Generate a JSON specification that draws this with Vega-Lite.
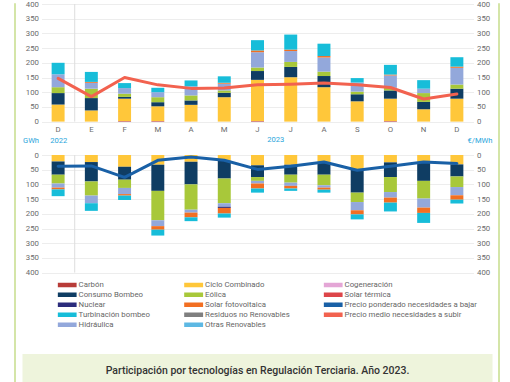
{
  "$schema": "https://vega.github.io/schema/vega-lite/v6.json",
  "padding": {"left": 14, "top": 0, "right": 0, "bottom": 0},
  "background": "white",
  "config": {
    "view": {"stroke": null},
    "font": "Roboto",
    "axis": {"labelFont": "Roboto", "labelFontSize": 7.8, "labelColor": "#6b6b6b", "domain": false, "ticks": false, "gridColor": "#e8e8e8", "gridWidth": 0.8, "titleFont": "Roboto", "titleFontSize": 7.6, "titleFontWeight": "normal", "titleColor": "#2ba6dc"}
  },
  "datasets": {
    "subir": [
      {"m": "2022-12", "s": "Ciclo Combinado", "v": 58}, {"m": "2022-12", "s": "Consumo Bombeo", "v": 39}, {"m": "2022-12", "s": "Eólica", "v": 20}, {"m": "2022-12", "s": "Hidráulica", "v": 44}, {"m": "2022-12", "s": "Turbinación bombeo", "v": 39},
      {"m": "2023-01", "s": "Ciclo Combinado", "v": 38}, {"m": "2023-01", "s": "Consumo Bombeo", "v": 42}, {"m": "2023-01", "s": "Eólica", "v": 32}, {"m": "2023-01", "s": "Hidráulica", "v": 20}, {"m": "2023-01", "s": "Solar fotovoltaica", "v": 3}, {"m": "2023-01", "s": "Turbinación bombeo", "v": 34},
      {"m": "2023-02", "s": "Carbón", "v": 2}, {"m": "2023-02", "s": "Ciclo Combinado", "v": 76}, {"m": "2023-02", "s": "Consumo Bombeo", "v": 6}, {"m": "2023-02", "s": "Eólica", "v": 11}, {"m": "2023-02", "s": "Hidráulica", "v": 19}, {"m": "2023-02", "s": "Turbinación bombeo", "v": 17},
      {"m": "2023-03", "s": "Carbón", "v": 2}, {"m": "2023-03", "s": "Ciclo Combinado", "v": 50}, {"m": "2023-03", "s": "Consumo Bombeo", "v": 14}, {"m": "2023-03", "s": "Eólica", "v": 17}, {"m": "2023-03", "s": "Hidráulica", "v": 17}, {"m": "2023-03", "s": "Turbinación bombeo", "v": 15},
      {"m": "2023-04", "s": "Ciclo Combinado", "v": 57}, {"m": "2023-04", "s": "Consumo Bombeo", "v": 15}, {"m": "2023-04", "s": "Eólica", "v": 17}, {"m": "2023-04", "s": "Hidráulica", "v": 31}, {"m": "2023-04", "s": "Turbinación bombeo", "v": 20},
      {"m": "2023-05", "s": "Ciclo Combinado", "v": 83}, {"m": "2023-05", "s": "Consumo Bombeo", "v": 15}, {"m": "2023-05", "s": "Eólica", "v": 8}, {"m": "2023-05", "s": "Hidráulica", "v": 23}, {"m": "2023-05", "s": "Solar fotovoltaica", "v": 3}, {"m": "2023-05", "s": "Turbinación bombeo", "v": 22},
      {"m": "2023-06", "s": "Carbón", "v": 2}, {"m": "2023-06", "s": "Ciclo Combinado", "v": 140}, {"m": "2023-06", "s": "Consumo Bombeo", "v": 30}, {"m": "2023-06", "s": "Eólica", "v": 12}, {"m": "2023-06", "s": "Hidráulica", "v": 52}, {"m": "2023-06", "s": "Solar fotovoltaica", "v": 6}, {"m": "2023-06", "s": "Turbinación bombeo", "v": 35},
      {"m": "2023-07", "s": "Ciclo Combinado", "v": 151}, {"m": "2023-07", "s": "Consumo Bombeo", "v": 35}, {"m": "2023-07", "s": "Eólica", "v": 17}, {"m": "2023-07", "s": "Hidráulica", "v": 37}, {"m": "2023-07", "s": "Solar fotovoltaica", "v": 5}, {"m": "2023-07", "s": "Turbinación bombeo", "v": 51},
      {"m": "2023-08", "s": "Ciclo Combinado", "v": 117}, {"m": "2023-08", "s": "Consumo Bombeo", "v": 38}, {"m": "2023-08", "s": "Eólica", "v": 15}, {"m": "2023-08", "s": "Hidráulica", "v": 48}, {"m": "2023-08", "s": "Solar fotovoltaica", "v": 5}, {"m": "2023-08", "s": "Turbinación bombeo", "v": 42},
      {"m": "2023-09", "s": "Ciclo Combinado", "v": 69}, {"m": "2023-09", "s": "Consumo Bombeo", "v": 24}, {"m": "2023-09", "s": "Eólica", "v": 9}, {"m": "2023-09", "s": "Hidráulica", "v": 31}, {"m": "2023-09", "s": "Turbinación bombeo", "v": 15},
      {"m": "2023-10", "s": "Carbón", "v": 2}, {"m": "2023-10", "s": "Ciclo Combinado", "v": 76}, {"m": "2023-10", "s": "Consumo Bombeo", "v": 28}, {"m": "2023-10", "s": "Eólica", "v": 9}, {"m": "2023-10", "s": "Hidráulica", "v": 42}, {"m": "2023-10", "s": "Solar fotovoltaica", "v": 3}, {"m": "2023-10", "s": "Turbinación bombeo", "v": 33},
      {"m": "2023-11", "s": "Ciclo Combinado", "v": 42}, {"m": "2023-11", "s": "Consumo Bombeo", "v": 25}, {"m": "2023-11", "s": "Eólica", "v": 30}, {"m": "2023-11", "s": "Hidráulica", "v": 15}, {"m": "2023-11", "s": "Turbinación bombeo", "v": 29},
      {"m": "2023-12", "s": "Ciclo Combinado", "v": 78}, {"m": "2023-12", "s": "Consumo Bombeo", "v": 34}, {"m": "2023-12", "s": "Eólica", "v": 14}, {"m": "2023-12", "s": "Hidráulica", "v": 57}, {"m": "2023-12", "s": "Solar fotovoltaica", "v": 4}, {"m": "2023-12", "s": "Turbinación bombeo", "v": 32}
    ],
    "bajar": [
      {"m": "2022-12", "s": "Ciclo Combinado", "v": 22}, {"m": "2022-12", "s": "Consumo Bombeo", "v": 45}, {"m": "2022-12", "s": "Eólica", "v": 30}, {"m": "2022-12", "s": "Hidráulica", "v": 14}, {"m": "2022-12", "s": "Solar fotovoltaica", "v": 6}, {"m": "2022-12", "s": "Turbinación bombeo", "v": 23},
      {"m": "2023-01", "s": "Ciclo Combinado", "v": 24}, {"m": "2023-01", "s": "Consumo Bombeo", "v": 66}, {"m": "2023-01", "s": "Eólica", "v": 48}, {"m": "2023-01", "s": "Hidráulica", "v": 26}, {"m": "2023-01", "s": "Turbinación bombeo", "v": 26},
      {"m": "2023-02", "s": "Ciclo Combinado", "v": 40}, {"m": "2023-02", "s": "Consumo Bombeo", "v": 44}, {"m": "2023-02", "s": "Eólica", "v": 28}, {"m": "2023-02", "s": "Hidráulica", "v": 21}, {"m": "2023-02", "s": "Solar fotovoltaica", "v": 5}, {"m": "2023-02", "s": "Turbinación bombeo", "v": 15},
      {"m": "2023-03", "s": "Ciclo Combinado", "v": 33}, {"m": "2023-03", "s": "Consumo Bombeo", "v": 89}, {"m": "2023-03", "s": "Eólica", "v": 100}, {"m": "2023-03", "s": "Hidráulica", "v": 20}, {"m": "2023-03", "s": "Solar fotovoltaica", "v": 12}, {"m": "2023-03", "s": "Turbinación bombeo", "v": 20},
      {"m": "2023-04", "s": "Ciclo Combinado", "v": 23}, {"m": "2023-04", "s": "Consumo Bombeo", "v": 77}, {"m": "2023-04", "s": "Eólica", "v": 86}, {"m": "2023-04", "s": "Hidráulica", "v": 10}, {"m": "2023-04", "s": "Solar fotovoltaica", "v": 16}, {"m": "2023-04", "s": "Turbinación bombeo", "v": 13},
      {"m": "2023-05", "s": "Ciclo Combinado", "v": 20}, {"m": "2023-05", "s": "Consumo Bombeo", "v": 60}, {"m": "2023-05", "s": "Eólica", "v": 84}, {"m": "2023-05", "s": "Hidráulica", "v": 12}, {"m": "2023-05", "s": "Nuclear", "v": 4}, {"m": "2023-05", "s": "Solar fotovoltaica", "v": 19}, {"m": "2023-05", "s": "Turbinación bombeo", "v": 14},
      {"m": "2023-06", "s": "Ciclo Combinado", "v": 35}, {"m": "2023-06", "s": "Consumo Bombeo", "v": 40}, {"m": "2023-06", "s": "Eólica", "v": 13}, {"m": "2023-06", "s": "Hidráulica", "v": 9}, {"m": "2023-06", "s": "Solar fotovoltaica", "v": 17}, {"m": "2023-06", "s": "Turbinación bombeo", "v": 14},
      {"m": "2023-07", "s": "Ciclo Combinado", "v": 33}, {"m": "2023-07", "s": "Consumo Bombeo", "v": 34}, {"m": "2023-07", "s": "Eólica", "v": 27}, {"m": "2023-07", "s": "Hidráulica", "v": 11}, {"m": "2023-07", "s": "Solar fotovoltaica", "v": 9}, {"m": "2023-07", "s": "Turbinación bombeo", "v": 8},
      {"m": "2023-08", "s": "Ciclo Combinado", "v": 24}, {"m": "2023-08", "s": "Consumo Bombeo", "v": 43}, {"m": "2023-08", "s": "Eólica", "v": 36}, {"m": "2023-08", "s": "Hidráulica", "v": 8}, {"m": "2023-08", "s": "Solar fotovoltaica", "v": 7}, {"m": "2023-08", "s": "Turbinación bombeo", "v": 10},
      {"m": "2023-09", "s": "Ciclo Combinado", "v": 50}, {"m": "2023-09", "s": "Consumo Bombeo", "v": 78}, {"m": "2023-09", "s": "Eólica", "v": 32}, {"m": "2023-09", "s": "Hidráulica", "v": 28}, {"m": "2023-09", "s": "Solar fotovoltaica", "v": 14}, {"m": "2023-09", "s": "Turbinación bombeo", "v": 17},
      {"m": "2023-10", "s": "Ciclo Combinado", "v": 25}, {"m": "2023-10", "s": "Consumo Bombeo", "v": 50}, {"m": "2023-10", "s": "Eólica", "v": 51}, {"m": "2023-10", "s": "Hidráulica", "v": 19}, {"m": "2023-10", "s": "Solar fotovoltaica", "v": 17}, {"m": "2023-10", "s": "Turbinación bombeo", "v": 30},
      {"m": "2023-11", "s": "Ciclo Combinado", "v": 25}, {"m": "2023-11", "s": "Consumo Bombeo", "v": 63}, {"m": "2023-11", "s": "Eólica", "v": 60}, {"m": "2023-11", "s": "Hidráulica", "v": 31}, {"m": "2023-11", "s": "Solar fotovoltaica", "v": 18}, {"m": "2023-11", "s": "Turbinación bombeo", "v": 34},
      {"m": "2023-12", "s": "Ciclo Combinado", "v": 32}, {"m": "2023-12", "s": "Consumo Bombeo", "v": 41}, {"m": "2023-12", "s": "Eólica", "v": 36}, {"m": "2023-12", "s": "Hidráulica", "v": 28}, {"m": "2023-12", "s": "Solar fotovoltaica", "v": 15}, {"m": "2023-12", "s": "Turbinación bombeo", "v": 13}
    ],
    "psubir": [
      {"m": "2022-12", "s": "Precio medio necesidades a subir", "v": 147}, {"m": "2023-01", "s": "Precio medio necesidades a subir", "v": 85}, {"m": "2023-02", "s": "Precio medio necesidades a subir", "v": 150}, {"m": "2023-03", "s": "Precio medio necesidades a subir", "v": 125}, {"m": "2023-04", "s": "Precio medio necesidades a subir", "v": 113}, {"m": "2023-05", "s": "Precio medio necesidades a subir", "v": 114}, {"m": "2023-06", "s": "Precio medio necesidades a subir", "v": 125}, {"m": "2023-07", "s": "Precio medio necesidades a subir", "v": 127}, {"m": "2023-08", "s": "Precio medio necesidades a subir", "v": 131}, {"m": "2023-09", "s": "Precio medio necesidades a subir", "v": 125}, {"m": "2023-10", "s": "Precio medio necesidades a subir", "v": 116}, {"m": "2023-11", "s": "Precio medio necesidades a subir", "v": 77}, {"m": "2023-12", "s": "Precio medio necesidades a subir", "v": 94}
    ],
    "pbajar": [
      {"m": "2022-12", "s": "Precio ponderado necesidades a bajar", "v": 38}, {"m": "2023-01", "s": "Precio ponderado necesidades a bajar", "v": 37}, {"m": "2023-02", "s": "Precio ponderado necesidades a bajar", "v": 76}, {"m": "2023-03", "s": "Precio ponderado necesidades a bajar", "v": 18}, {"m": "2023-04", "s": "Precio ponderado necesidades a bajar", "v": 7}, {"m": "2023-05", "s": "Precio ponderado necesidades a bajar", "v": 18}, {"m": "2023-06", "s": "Precio ponderado necesidades a bajar", "v": 49}, {"m": "2023-07", "s": "Precio ponderado necesidades a bajar", "v": 38}, {"m": "2023-08", "s": "Precio ponderado necesidades a bajar", "v": 24}, {"m": "2023-09", "s": "Precio ponderado necesidades a bajar", "v": 52}, {"m": "2023-10", "s": "Precio ponderado necesidades a bajar", "v": 38}, {"m": "2023-11", "s": "Precio ponderado necesidades a bajar", "v": 24}, {"m": "2023-12", "s": "Precio ponderado necesidades a bajar", "v": 29}
    ]
  },
  "hconcat": [
    {"width": 0.001, "height": 400, "view": {"stroke": "#c6dc8b", "strokeWidth": 1.5}, "data": {"values": []}, "mark": "rule", "encoding": {}},
    {
      "vconcat": [
        {
          "width": 432, "height": 117.6,
          "encoding": {
            "x": {"field": "m", "type": "nominal", "title": "2023", "scale": {"domain": ["2022-12","2023-01","2023-02","2023-03","2023-04","2023-05","2023-06","2023-07","2023-08","2023-09","2023-10","2023-11","2023-12"], "paddingInner": 0.61, "paddingOuter": 0.305},
              "axis": {"titleX": 233.7, "titleY": 18.3, "titleAlign": "center", "titleBaseline": "middle", "labelAngle": 0, "labelPadding": 4, "labelExpr": "['E','F','M','A','M','J','J','A','S','O','N','D'][toNumber(substring(datum.value,5,7))-1]"}}
          },
          "layer": [
            {"data": {"values": [{"m": "2022-12"}]}, "mark": {"type": "rule", "color": "#dddddd", "strokeWidth": 1, "xOffset": 16.6}},
            {"data": {"name": "subir"},
             "transform": [{"calculate": "indexof(['Carbón','Ciclo Combinado','Consumo Bombeo','Eólica','Hidráulica','Nuclear','Residuos no Renovables','Cogeneración','Solar térmica','Solar fotovoltaica','Otras Renovables','Turbinación bombeo'], datum.s)", "as": "o"}],
             "mark": "bar",
             "encoding": {
               "y": {"field": "v", "type": "quantitative", "stack": "zero", "scale": {"domain": [0, 400]}, "axis": {"values": [0,50,100,150,200,250,300,350,400], "title": "GWh", "titleAngle": 0, "titleX": -11, "titleY": 136, "titleAlign": "center", "titleBaseline": "middle", "labelPadding": 3}},
               "color": {"field": "s", "type": "nominal",
                 "scale": {"domain": ["Carbón","Consumo Bombeo","Nuclear","Turbinación bombeo","Hidráulica","Ciclo Combinado","Eólica","Solar fotovoltaica","Residuos no Renovables","Otras Renovables","Cogeneración","Solar térmica","Precio ponderado necesidades a bajar","Precio medio necesidades a subir"],
                           "range": ["#b83c38","#0f3d63","#2b2c7c","#17bdd9","#93a8db","#ffc73a","#a8c83a","#f26f22","#7f7f7f","#5db8e3","#e4a6d6","#dd4549","#1960a6","#f2624f"]},
                 "legend": {"orient": "none", "legendX": 42.6, "legendY": 276, "columns": 3, "columnPadding": 33.5, "rowPadding": 0, "clipHeight": 9.5, "title": null, "padding": 0, "symbolType": "M-1,-0.24L1,-0.24L1,0.24L-1,0.24Z", "symbolSize": 361, "symbolStrokeWidth": 0, "symbolOpacity": 1, "labelFont": "Roboto", "labelFontSize": 7.8, "labelColor": "#666666", "labelOffset": 2, "labelLimit": 250,
                   "encode": {"symbols": {"update": {"fill": {"scale": "color", "field": "value"}, "stroke": {"value": "transparent"}}}}}},
               "order": {"field": "o", "type": "quantitative"}
             }
            },
            {"data": {"name": "psubir"},
             "mark": {"type": "line", "strokeWidth": 3, "strokeJoin": "round", "strokeCap": "round"},
             "encoding": {
               "y": {"field": "v", "type": "quantitative", "scale": {"domain": [0, 400]}, "axis": {"orient": "right", "grid": false, "values": [0,50,100,150,200,250,300,350,400], "title": "€/MWh", "titleAngle": 0, "titleX": 6, "titleY": 136, "titleAlign": "center", "titleBaseline": "middle", "labelPadding": 3}},
               "color": {"field": "s", "type": "nominal",
                 "scale": {"domain": ["Carbón","Consumo Bombeo","Nuclear","Turbinación bombeo","Hidráulica","Ciclo Combinado","Eólica","Solar fotovoltaica","Residuos no Renovables","Otras Renovables","Cogeneración","Solar térmica","Precio ponderado necesidades a bajar","Precio medio necesidades a subir"],
                           "range": ["#b83c38","#0f3d63","#2b2c7c","#17bdd9","#93a8db","#ffc73a","#a8c83a","#f26f22","#7f7f7f","#5db8e3","#e4a6d6","#dd4549","#1960a6","#f2624f"]},
                 "legend": {"orient": "none", "legendX": 42.6, "legendY": 276, "columns": 3, "columnPadding": 33.5, "rowPadding": 0, "clipHeight": 9.5, "title": null, "padding": 0, "symbolType": "M-1,-0.24L1,-0.24L1,0.24L-1,0.24Z", "symbolSize": 361, "symbolStrokeWidth": 0, "symbolOpacity": 1, "labelFont": "Roboto", "labelFontSize": 7.8, "labelColor": "#666666", "labelOffset": 2, "labelLimit": 250,
                   "encode": {"symbols": {"update": {"fill": {"scale": "color", "field": "value"}, "stroke": {"value": "transparent"}}}}}}
             }
            }
          ],
          "resolve": {"scale": {"y": "independent"}}
        },
        {
          "width": 432, "height": 117.6,
          "encoding": {
            "x": {"field": "m", "type": "nominal", "title": "2022", "scale": {"domain": ["2022-12","2023-01","2023-02","2023-03","2023-04","2023-05","2023-06","2023-07","2023-08","2023-09","2023-10","2023-11","2023-12"], "paddingInner": 0.61, "paddingOuter": 0.305},
              "axis": {"orient": "top", "labels": false, "grid": false, "titleX": 16.7, "titleY": -14.7, "titleAlign": "center", "titleBaseline": "middle"}}
          },
          "layer": [
            {"data": {"values": [{"m": "2022-12"}]}, "mark": {"type": "rule", "color": "#dddddd", "strokeWidth": 1, "xOffset": 16.6}},
            {"data": {"name": "bajar"},
             "transform": [{"calculate": "indexof(['Carbón','Ciclo Combinado','Consumo Bombeo','Eólica','Hidráulica','Nuclear','Residuos no Renovables','Cogeneración','Solar térmica','Solar fotovoltaica','Otras Renovables','Turbinación bombeo'], datum.s)", "as": "o"}],
             "mark": "bar",
             "encoding": {
               "y": {"field": "v", "type": "quantitative", "stack": "zero", "scale": {"domain": [0, 400], "reverse": true}, "axis": {"values": [0,50,100,150,200,250,300,350,400], "title": null, "labelPadding": 3}},
               "color": {"field": "s", "type": "nominal",
                 "scale": {"domain": ["Carbón","Consumo Bombeo","Nuclear","Turbinación bombeo","Hidráulica","Ciclo Combinado","Eólica","Solar fotovoltaica","Residuos no Renovables","Otras Renovables","Cogeneración","Solar térmica","Precio ponderado necesidades a bajar","Precio medio necesidades a subir"],
                           "range": ["#b83c38","#0f3d63","#2b2c7c","#17bdd9","#93a8db","#ffc73a","#a8c83a","#f26f22","#7f7f7f","#5db8e3","#e4a6d6","#dd4549","#1960a6","#f2624f"]},
                 "legend": {"orient": "none", "legendX": 42.6, "legendY": 276, "columns": 3, "columnPadding": 33.5, "rowPadding": 0, "clipHeight": 9.5, "title": null, "padding": 0, "symbolType": "M-1,-0.24L1,-0.24L1,0.24L-1,0.24Z", "symbolSize": 361, "symbolStrokeWidth": 0, "symbolOpacity": 1, "labelFont": "Roboto", "labelFontSize": 7.8, "labelColor": "#666666", "labelOffset": 2, "labelLimit": 250,
                   "encode": {"symbols": {"update": {"fill": {"scale": "color", "field": "value"}, "stroke": {"value": "transparent"}}}}}},
               "order": {"field": "o", "type": "quantitative"}
             }
            },
            {"data": {"name": "pbajar"},
             "mark": {"type": "line", "strokeWidth": 3, "strokeJoin": "round", "strokeCap": "round"},
             "encoding": {
               "y": {"field": "v", "type": "quantitative", "scale": {"domain": [0, 400], "reverse": true}, "axis": {"orient": "right", "grid": false, "values": [0,50,100,150,200,250,300,350,400], "title": null, "labelPadding": 3}},
               "color": {"field": "s", "type": "nominal",
                 "scale": {"domain": ["Carbón","Consumo Bombeo","Nuclear","Turbinación bombeo","Hidráulica","Ciclo Combinado","Eólica","Solar fotovoltaica","Residuos no Renovables","Otras Renovables","Cogeneración","Solar térmica","Precio ponderado necesidades a bajar","Precio medio necesidades a subir"],
                           "range": ["#b83c38","#0f3d63","#2b2c7c","#17bdd9","#93a8db","#ffc73a","#a8c83a","#f26f22","#7f7f7f","#5db8e3","#e4a6d6","#dd4549","#1960a6","#f2624f"]},
                 "legend": {"orient": "none", "legendX": 42.6, "legendY": 276, "columns": 3, "columnPadding": 33.5, "rowPadding": 0, "clipHeight": 9.5, "title": null, "padding": 0, "symbolType": "M-1,-0.24L1,-0.24L1,0.24L-1,0.24Z", "symbolSize": 361, "symbolStrokeWidth": 0, "symbolOpacity": 1, "labelFont": "Roboto", "labelFontSize": 7.8, "labelColor": "#666666", "labelOffset": 2, "labelLimit": 250,
                   "encode": {"symbols": {"update": {"fill": {"scale": "color", "field": "value"}, "stroke": {"value": "transparent"}}}}}}
             }
            }
          ],
          "resolve": {"scale": {"y": "independent"}}
        },
        {"width": 432, "height": 14.4, "data": {"values": []}, "mark": "rule", "encoding": {}},
        {"width": 470, "height": 33, "view": {"fill": "#eef4dc", "stroke": null},
         "data": {"values": [{"t": "Participación por tecnologías en Regulación Terciaria. Año 2023."}]},
         "mark": {"type": "text", "font": "Roboto", "fontSize": 10.5, "fontWeight": 500, "color": "#333333"},
         "encoding": {"text": {"field": "t", "type": "nominal"}}}
      ],
      "spacing": 33,
      "bounds": "flush",
      "center": true
    },
    {"width": 0.001, "height": 400, "view": {"stroke": "#c6dc8b", "strokeWidth": 1.5}, "data": {"values": []}, "mark": "rule", "encoding": {}}
  ],
  "spacing": 5.5,
  "bounds": "full"
}
